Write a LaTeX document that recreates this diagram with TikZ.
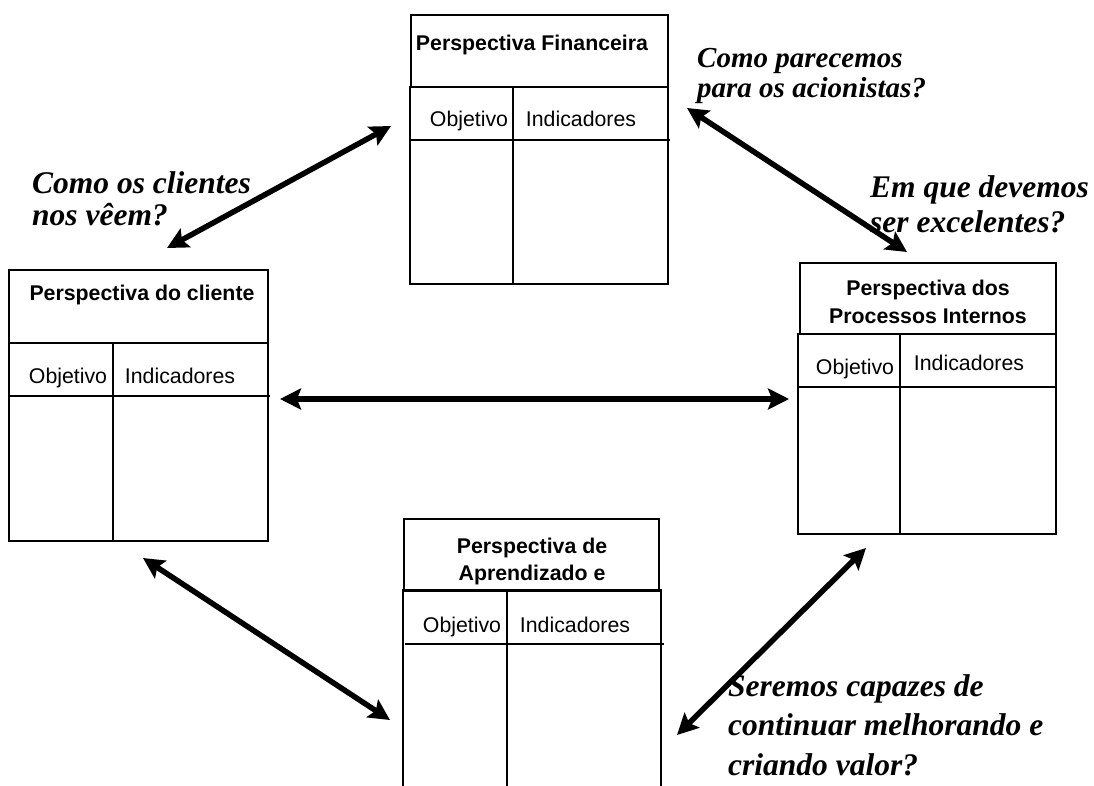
\documentclass[tikz,border=0pt]{standalone}
\usepackage{fontspec}
\setmainfont{Liberation Serif}
\newfontfamily\boxfont{Liberation Sans}
\usetikzlibrary{arrows.meta}
\begin{document}
\begin{tikzpicture}[x=1pt,y=-1pt,
  frame/.style={draw, line width=1.5pt, inner sep=0, anchor=north west},
  rule/.style={line width=1.5pt},
  btitle/.style={font=\boxfont\bfseries\fontsize{21.3}{28}\selectfont, anchor=base, inner sep=0},
  bcell/.style={font=\boxfont\fontsize{21.3}{24}\selectfont, anchor=base, inner sep=0},
  question/.style={font=\bfseries\itshape\fontsize{31.5}{32}\selectfont, anchor=base west, inner sep=0, align=left},
  link/.style={line width=5.5pt, {Stealth[length=21pt,width=21pt,inset=4pt]}-{Stealth[length=21pt,width=21pt,inset=4pt]}}]
\useasboundingbox[fill=white] (0,0) rectangle (1094,785);

% ---------- Perspectiva Financeira ----------
\node[frame, minimum width=257pt, minimum height=72pt] (finT) at (410,14) {};
\node[frame, minimum width=258pt, minimum height=197pt] (finB) at (409,86) {};
\draw[rule] (513,86) -- (513,283);
\draw[rule] (410,140) -- (670,140);
\node[btitle] (finTx) at (532,50) {Perspectiva Financeira};
\node[bcell] (finO) at (469,126) {Objetivo};
\node[bcell] (finI) at (581,126) {Indicadores};

% ---------- Perspectiva do cliente ----------
\node[frame, minimum width=259pt, minimum height=73pt] (cliT) at (8,269) {};
\node[frame, minimum width=259pt, minimum height=198pt] (cliB) at (8,342) {};
\draw[rule] (113,342) -- (113,540);
\draw[rule] (10,396) -- (270,396);
\node[btitle] (cliTx) at (142,300) {Perspectiva do cliente};
\node[bcell] (cliO) at (68,383) {Objetivo};
\node[bcell] (cliI) at (180,383) {Indicadores};

% ---------- Perspectiva dos Processos Internos ----------
\node[frame, minimum width=256pt, minimum height=71pt] (proT) at (799,262) {};
\node[frame, minimum width=258pt, minimum height=200pt] (proB) at (797,333) {};
\draw[rule] (900,333) -- (900,533);
\draw[rule] (797,387) -- (1057,387);
\node[btitle] (proTx1) at (928,295) {Perspectiva dos};
\node[btitle] (proTx2) at (928,323) {Processos Internos};
\node[bcell] (proO) at (855,374) {Objetivo};
\node[bcell] (proI) at (969,370) {Indicadores};

% ---------- Perspectiva de Aprendizado e ----------
\node[frame, minimum width=255pt, minimum height=72pt] (aprT) at (403,518) {};
\draw[rule] (403,800) -- (403,590) -- (661,590) -- (661,800);
\draw[rule] (507,590) -- (507,800);
\draw[rule] (405,644) -- (664,644);
\node[btitle] (aprTx1) at (532,553) {Perspectiva de};
\node[btitle] (aprTx2) at (532,580) {Aprendizado e};
\node[bcell] (aprO) at (462,632) {Objetivo};
\node[bcell] (aprI) at (575,632) {Indicadores};

% ---------- connector ends ----------
\coordinate (a1s) at (167,248);
\coordinate (a1e) at (391,126);
\coordinate (a2s) at (687,108);
\coordinate (a2e) at (907,252);
\coordinate (a3s) at (280,399);
\coordinate (a3e) at (789,399);
\coordinate (a4s) at (143,558);
\coordinate (a4e) at (390,720);
\coordinate (a5s) at (866,548);
\coordinate (a5e) at (677,735);

\draw[link] (a1s) -- (a1e);
\draw[link] (a2s) -- (a2e);
\draw[link] (a3s) -- (a3e);
\draw[link] (a4s) -- (a4e);
\draw[link] (a5s) -- (a5e);

% ---------- questions (anchor = baseline of last line) ----------
\node[question, font=\bfseries\itshape\fontsize{29}{30}\selectfont] (q1) at (697,97) {Como parecemos\\para os acionistas?};
\node[question] (q2) at (32,225) {Como os clientes\\nos vêem?};
\node[question, font=\bfseries\itshape\fontsize{31.5}{35}\selectfont] (q3) at (870,232) {Em que devemos\\ser excelentes?};
\node[question, font=\bfseries\itshape\fontsize{31.5}{39.5}\selectfont] (q4) at (728,775) {Seremos capazes de\\continuar melhorando e\\criando valor?};
\end{tikzpicture}
\end{document}
